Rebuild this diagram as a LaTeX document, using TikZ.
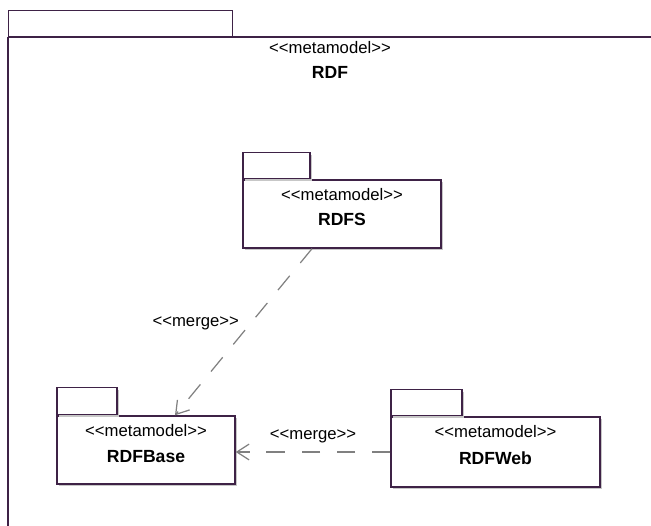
\documentclass[tikz,border=0pt]{standalone}
\usepackage{fontspec}
\setmainfont{Liberation Sans}
\usetikzlibrary{arrows.meta,shadows}
\definecolor{pkgline}{RGB}{62,34,70}
\definecolor{mergeline}{RGB}{128,128,128}
\newcommand{\stereotype}[1]{<{}<#1>{}>}

\begin{document}
\begin{tikzpicture}[
    pkg/.style={rectangle,draw=pkgline,line width=0.8pt,fill=white,inner sep=0pt,
        drop shadow={shadow xshift=1.2pt,shadow yshift=-1.2pt,fill=black!22,opacity=1}},
    tab/.style={pkg,anchor=south west,minimum height=0.52cm},
    stereo/.style={font=\fontsize{9.5}{11}\selectfont},
    pkgname/.style={font=\fontsize{10}{12}\selectfont\bfseries},
    merge/.style={draw=mergeline,line width=0.7pt,dash pattern=on 10.5pt off 9.5pt,
        -{Straight Barb[length=7pt,width=9pt]}}]
    \useasboundingbox (0,0) rectangle (13.02,-10.52);

    % outer package
    \node at (0.16,-0.74) [rectangle,draw=pkgline,line width=0.8pt,fill=white,anchor=south west,
        minimum width=4.48cm,minimum height=0.52cm,inner sep=0pt] (rdftab) {};
    \draw[draw=pkgline,line width=0.8pt] (rdftab.south west) -- (13.1,-0.74);
    \draw[draw=pkgline,line width=0.8pt] (rdftab.south west) -- (0.16,-10.6);
    \node at (6.6,-0.96) [stereo] (rdfst) {\stereotype{metamodel}};
    \node at (6.6,-1.44) [pkgname] (rdfname) {RDF};

    % nodes
    \node at (6.84,-4.28) [pkg,minimum width=3.96cm,minimum height=1.36cm] (rdfs) {};
    \node at (rdfs.north west) [tab,minimum width=1.34cm] (rdfstab) {};
    \node at ([yshift=-0.30cm]rdfs.north) [stereo] (rdfsst) {\stereotype{metamodel}};
    \node at ([yshift=-0.80cm]rdfs.north) [pkgname] (rdfsname) {RDFS};

    \node at (2.92,-9.0) [pkg,minimum width=3.56cm,minimum height=1.36cm] (base) {};
    \node at (base.north west) [tab,minimum width=1.2cm,minimum height=0.54cm] (basetab) {};
    \node at ([yshift=-0.30cm]base.north) [stereo] (basest) {\stereotype{metamodel}};
    \node at ([yshift=-0.82cm]base.north) [pkgname] (basename) {RDFBase};

    \node at (9.91,-9.04) [pkg,minimum width=4.18cm,minimum height=1.40cm] (web) {};
    \node at (web.north west) [tab,minimum width=1.42cm] (webtab) {};
    \node at ([yshift=-0.30cm]web.north) [stereo] (webst) {\stereotype{metamodel}};
    \node at ([yshift=-0.84cm]web.north) [pkgname] (webname) {RDFWeb};

    % paths
    \draw[merge] ([xshift=-0.6cm]rdfs.south) to
        node[pos=0.45,anchor=east,xshift=-0.1cm,stereo] {\stereotype{merge}}
        ([xshift=0.58cm]base.north);
    \draw[merge] (web.west) to
        node[midway,above=0.05cm,stereo] {\stereotype{merge}}
        (web.west -| base.east);
\end{tikzpicture}
\end{document}
